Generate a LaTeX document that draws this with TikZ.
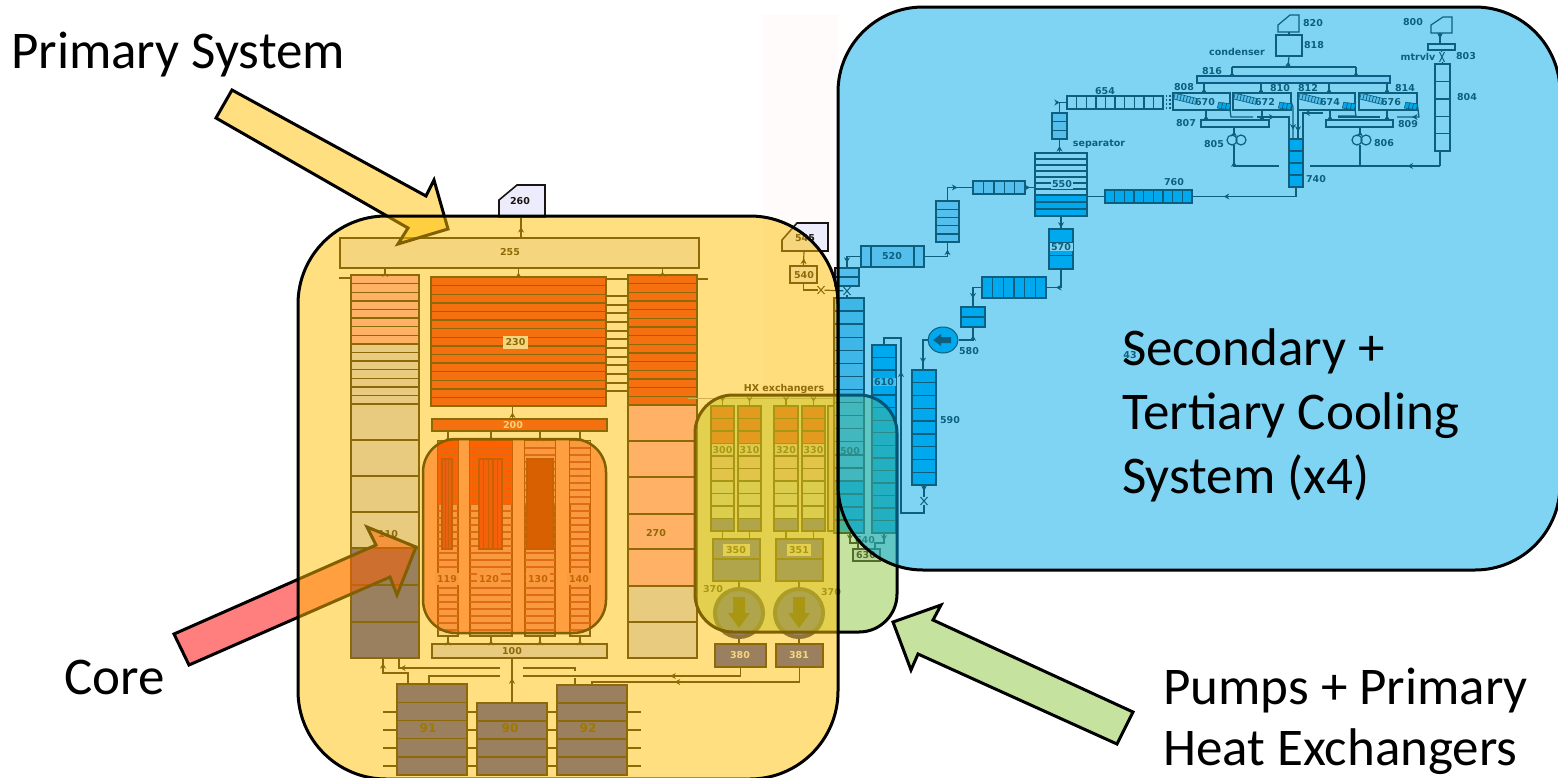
\documentclass[tikz,border=0pt]{standalone}
\usepackage{fontspec}
\setmainfont{Carlito}
\newfontfamily\schfont{DejaVu Sans}
\usetikzlibrary{arrows.meta,calc,decorations.markings,shapes.misc,shapes.geometric}
\definecolor{schline}{HTML}{1C1410}
\definecolor{rodline}{HTML}{803060}
\definecolor{lav}{HTML}{ECECFC}
\definecolor{heata}{HTML}{EB2020}
\definecolor{heatb}{HTML}{FFA4CC}
\definecolor{heatc}{HTML}{D1D8FF}
\definecolor{coldblk}{HTML}{3740C0}
\definecolor{tanktext}{HTML}{403000}
\definecolor{hxa}{HTML}{FF2240}
\definecolor{hxb}{HTML}{FFD0F0}
\definecolor{hxc}{HTML}{E6F4FF}
\definecolor{hxd}{HTML}{3650F0}
\definecolor{coola}{HTML}{00A5F0}
\definecolor{coolb}{HTML}{AAD5F0}
\definecolor{coolc}{HTML}{7EC5E5}
\definecolor{zonered}{HTML}{FF0000}
\definecolor{zoneyel}{HTML}{FFC000}
\definecolor{zoneblu}{HTML}{00ABEB}
\definecolor{zonegrn}{HTML}{8CC63F}
\tikzset{
  % ---- schematic parts ------------------------------------------------
  cell/.style={draw=schline, line width=1.4pt, inner sep=0pt, outer sep=0pt,
    anchor=north west},
  rowline/.style={draw=schline, line width=1.4pt},
  pipe/.style={draw=schline, line width=1.2pt},
  ptip/.style={pipe,
    decoration={markings, mark=at position #1 with
      {\arrow{Stealth[length=5.5pt,width=6pt,color=schline]}}},
    postaction={decorate}},
  ptip/.default=0.5,
  valve/.style={cross out, draw=schline, line width=1pt, inner sep=0pt,
    minimum width=6pt, minimum height=7pt},
  fan/.style={circle, draw=schline, line width=1.2pt, inner sep=0pt,
    minimum size=10pt},
  numtag/.style={inner sep=1pt, text=schline,
    font=\schfont\bfseries\fontsize{9.5}{10}\selectfont},
  bigtag/.style={numtag, text=tanktext,
    font=\schfont\bfseries\fontsize{12}{13}\selectfont},
  patchtag/.style={numtag, fill=lav},
  % ---- translucent zones ----------------------------------------------
  zone/.style={draw=black, line width=3pt, fill opacity=0.5, draw opacity=1,
    inner sep=0pt, outer sep=0pt, anchor=north west},
  bigtext/.style={inner sep=0pt, anchor=base west, text=black,
    font=\fontsize{53}{56}\selectfont},
}
% name, x1, y1, x2, y2, fill
\newcommand{\block}[6]{%
  \pgfmathsetmacro\bw{(#4)-(#2)}\pgfmathsetmacro\bh{(#5)-(#3)}%
  \node[cell, fill=#6, minimum width=\bw pt, minimum height=\bh pt] (#1) at (#2,#3) {};}
% x1, y1, x2, y2, rows
\newcommand{\hrows}[5]{%
  \pgfmathtruncatemacro\nr{#5-1}%
  \foreach \k in {1,...,\nr}{\draw[rowline] (#1,{#2+\k*(#4-#2)/#5}) -- (#3,{#2+\k*(#4-#2)/#5});}}
% x1, y1, x2, y2, columns
\newcommand{\vrows}[5]{%
  \pgfmathtruncatemacro\nr{#5-1}%
  \foreach \k in {1,...,\nr}{\draw[rowline] ({#1+\k*(#3-#1)/#5},#2) -- ({#1+\k*(#3-#1)/#5},#4);}}
\begin{document}
\begin{tikzpicture}[x=1pt,y=-1pt]
\useasboundingbox (0,0) rectangle (1558,777);
\fill[white] (0,0) rectangle (1558,777);
\fill[red!1.5] (763,15) rectangle (838,395);

% ---------------- tags on top ------------------------------------------
\coordinate (t260) at (521,216);
\draw[pipe, line width=1.6pt, fill=lav] (499,217) -- (499,200) -- (517,185) -- (545,185) -- (545,217) -- cycle;
\node[numtag] (l260) at (520,201) {260};
\draw[pipe, line width=1.6pt, fill=lav] (782,251) -- (782,240) -- (797,223) -- (828,223) -- (828,251) -- cycle;
\coordinate (t545) at (804,251);
\node[numtag] (l545) at (805,238) {545};

% ---------------- primary vessel ---------------------------------------
\block{bus255}{340}{238}{699}{268}{lav}
\node[numtag] (l255) at (510,252) {255};
\block{col110}{351}{275}{419}{344}{heatb}
\hrows{351}{275}{419}{344}{8}
\block{col110b}{351}{344}{419}{404}{heatc}
\hrows{351}{344}{419}{404}{7}
\foreach \ya/\yb/\fc in {404/440/heatc,440/476/heatc,476/512/heatc,512/548/heatc,
                         548/585/coldblk,585/622/coldblk,622/658/coldblk}{
  \block{c110\ya}{351}{\ya}{419}{\yb}{\fc}
}
\node[numtag] (l110) at (388,534) {110};
\block{block230}{431}{277}{606}{406}{heata}
\hrows{431}{277}{606}{406}{15}
\node[patchtag, inner sep=3pt] (l230) at (515.5,342.5) {230};
\foreach \ya in {279,296,305,313,322,331,339,348,357,365,374,383,391}{
  \draw[rowline] (606,\ya) -- (628,\ya);
}
\block{col270}{628}{275}{697}{405}{heata}
\hrows{628}{275}{697}{405}{15}
\foreach \ya/\yb/\fc in {405/441/heatb,441/477/heatb,477/514/heatb,514/549/heatb,
                         549/586/heatb,586/622/heatc,622/658/heatc}{
  \block{c270\ya}{628}{\ya}{697}{\yb}{\fc}
}
\node[numtag] (l270) at (656,533) {270};
\draw[pipe] (col110.north west) ++(-12,3) -- ++(12,0);
\draw[pipe] (col270.north east) ++(0,4) -- ++(11,0);
\draw[ptip] (col110.north) -- (col110.north |- bus255.south);
\draw[ptip] (block230.north) -- (block230.north |- bus255.south);
\draw[ptip] (col270.north) -- (col270.north |- bus255.south);
\draw[ptip, line width=1.6pt] (t260 |- bus255.north) -- (t260);

\block{box200}{432}{419}{607}{431}{heata}
\node[numtag, text=lav] (l200) at (513,425) {200};
\draw[ptip] ([xshift=-7pt]box200.north) -- ([xshift=-7pt]box200.north |- block230.south);
\block{box100}{432}{644}{607}{658}{heatc}
\node[numtag] (l100) at (512,651) {100};

% ---------------- core rods --------------------------------------------
\foreach \nm/\xa/\xb/\hc in {119/438/458/zonered,120/470/512/zonered,130/525/555/lav,140/570/590/lav}{
  \block{rod\nm}{\xa}{441}{\xb}{636}{lav}
  \fill[\hc] (\xa,441) rectangle (\xb,503);
  \foreach \k in {1,...,27}{
    \draw[draw=rodline, line width=1.8pt] (\xa,441+\k*7) -- (\xb,441+\k*7);
  }
  \draw[ptip] (rod\nm.north) -- (rod\nm.north |- box200.south);
  \draw[ptip] (box100.north -| rod\nm.north) -- (rod\nm.south);
}
\block{in119}{442}{459}{452}{549}{zonered!70!blue}
\vrows{442}{459}{452}{549}{3}
\block{in120}{479}{459}{502}{549}{zonered!85!blue}
\vrows{479}{459}{502}{549}{5}
\block{in130}{527}{459}{553}{549}{zonered!40!black}
\foreach \nm/\xc in {119/447,120/489,130/538,140/579}{
  \node[patchtag, inner sep=2pt] (l\nm) at (\xc,579) {\nm};
}

% ---------------- drain tanks ------------------------------------------
\foreach \nm/\xa/\ya/\xc in {91/397/684/428,90/477/703/510,92/557/685/588}{
  \block{tank\nm}{\xa}{\ya}{\xa+70}{775}{coldblk}
}
\hrows{397}{684}{467}{775}{5}
\hrows{477}{703}{547}{775}{4}
\hrows{557}{685}{627}{775}{5}
\foreach \nm/\xc in {91/428,90/510,92/588}{
  \node[bigtag] (l\nm) at (\xc,728) {\nm};
}
\foreach \ya in {712,730,748,766}{
  \draw[pipe] (tank91.west |- 0,\ya) -- ++(-14,0);
  \draw[pipe] (tank91.east |- 0,\ya) -- (tank90.west |- 0,\ya);
  \draw[pipe] (tank90.east |- 0,\ya) -- (tank92.west |- 0,\ya);
  \draw[pipe] (tank92.east |- 0,\ya) -- ++(14,0);
}
\draw[ptip=0.55] (tank90.north) -- (tank90.north |- box100.south);
\draw[ptip=0.9] ([xshift=-24pt]tank91.north) |- (383,673) -- (c110622.south -| 383,0);
\draw[ptip=0.9] (500,668) -- (399,668) -- (c110622.south -| 399,0);
\draw[pipe] ([xshift=-3pt]tank91.north) -- ++(0,-8) -- (500,676);
\draw[pipe] (523,668) -- (575,668) -- (575,671);
\draw[pipe] (575,678) -- (575,685);

% ---------------- heat exchangers --------------------------------------
\node[numtag] (lhx) at (784,389) {HX exchangers};
\coordinate (hxrail) at (688,398);
\coordinate (hxend) at (838,398);
\draw[draw=schline!40, line width=0.7pt] (hxrail) -- (hxend);
\block{hxstrip}{828}{406}{834}{531}{hxb}
\foreach \nm/\xa/\xb in {300/711/734,310/738/761,320/774/798,330/802/825}{
  \foreach \r/\fc in {0/hxa,1/hxa,2/hxa,3/hxb,4/hxb,5/hxb,6/hxc,7/hxc,8/hxc,9/hxd}{
    \block{hx\nm r\r}{\xa}{406+\r*12.5}{\xb}{418.5+\r*12.5}{\fc}
  }
  \draw[ptip] (hx\nm r0.north |- hxrail) -- (hx\nm r0.north);
  \node[numtag, fill=hxc, inner sep=0.5pt] (l\nm) at (hx\nm r3.center) {\nm};
}
\block{box350}{713}{539}{760}{559}{hxd}
\block{box350b}{713}{559}{760}{581}{hxd}
\block{box351}{776}{539}{823}{559}{hxd}
\block{box351b}{776}{559}{823}{581}{hxd}
\node[numtag, fill=white, minimum width=27pt, minimum height=12pt] (l350) at (736,550) {350};
\node[numtag, fill=white, minimum width=24pt, minimum height=12pt] (l351) at (799,550) {351};
\draw[pipe] (hx300r9.south) -- (hx300r9.south |- box350.north);
\draw[pipe] (hx310r9.south) -- (hx310r9.south |- box350.north);
\draw[pipe] (hx320r9.south) -- (hx320r9.south |- box351.north);
\draw[pipe] (hx330r9.south) -- (hx330r9.south |- box351.north);
\foreach \nm/\xc in {a/739,b/799}{
  \node[circle, draw=schline!60!hxd, line width=4pt, fill=hxd, inner sep=0pt,
        minimum size=48pt] (pump\nm) at (\xc,613) {};
  \fill[schline] (\xc-6,597) -- (\xc+6,597) -- (\xc+6,613) -- (\xc+11,613)
    -- (\xc,628) -- (\xc-11,613) -- (\xc-6,613) -- cycle;
}
\node[numtag] (l370a) at (713,589) {370};
\node[numtag] (l370b) at (831,592) {370};
\block{box380}{715}{644}{766}{667}{coldblk}
\block{box381}{776}{644}{823}{667}{coldblk}
\node[numtag, text=lav] (l380) at (740,655) {380};
\node[numtag, text=lav] (l381) at (799,655) {381};
\draw[pipe] (box350b.south -| pumpa) -- (pumpa.north);
\draw[pipe] (box351b.south -| pumpb) -- (pumpb.north);
\draw[pipe] (pumpa.south) -- (box380.north -| pumpa);
\draw[pipe] (pumpb.south) -- (box381.north -| pumpb);
\draw[ptip=0.35] (box380.south) |- (523,676);
\draw[ptip=0.62] (box381.south) |- ([yshift=3pt]tank92.north) -- (tank92.north);

% ---------------- secondary loop, lower part ---------------------------
\block{col500}{834}{298}{864}{481}{coolc}
\hrows{834}{298}{864}{481}{14}
\block{col500b}{834}{481}{864}{533}{coola}
\hrows{834}{481}{864}{533}{4}
\node[numtag] (l500) at (850,451) {500};
\block{col610}{872}{345}{896}{533}{coola}
\hrows{872}{345}{896}{533}{15}
\node[numtag, fill=coola!50!white, inner sep=0.5pt, minimum width=23pt] (l610) at (884,382) {610};
\block{col590}{912}{370}{936}{485}{coola}
\hrows{912}{370}{936}{485}{9}
\node[numtag] (l590) at (950,420) {590};
\node[valve] (v590) at (924,501) {};
\draw[ptip] (col590.south) -- (v590);
\draw[ptip=0.75] (v590) |- (901,513) -- (901,338) -- (col610.north |- 0,338) -- (col610.north);
\block{box630}{853}{549}{880}{561}{lav}
\node[numtag, inner sep=0pt] (l630) at (866,555) {630};
\node[numtag] (l640) at (865,540) {640};
\draw[ptip=0.3] (col500b.south -| 850,0) -- (850,543) -- (858,543) -- (box630.north -| 858,0);
\draw[ptip=0.3] (col610.south -| 884,0) -- (884,543) -- (875,543) -- (box630.north -| 875,0);
\block{box540}{790}{266}{817}{283}{lav}
\node[numtag] (l540) at (804,275) {540};
\draw[ptip] (box540.north) -- (t545);
\node[valve] (v540) at (821,290) {};
\draw[pipe] (box540.south) |- (v540);
\block{box268}{835}{268}{859}{286}{coolb}
\hrows{835}{268}{859}{286}{2}
\node[valve] (v500) at (847,291) {};
\draw[pipe] (v540) -- (v500);
\draw[pipe] (box268.south) -- (v500);
\draw[pipe] (v500) -- (col500.north -| v500);
\block{box520}{861}{246}{924}{267}{coolb}
\draw[rowline] (871,246) -- (871,267);
\draw[rowline] (914,246) -- (914,267);
\node[numtag] (l520) at (892,256) {520};
\draw[ptip=0.8] (box520.west) -| (box268.north);
\block{col948}{936}{201}{959}{242}{coolb}
\hrows{936}{201}{959}{242}{5}
\draw[ptip=0.8] (box520.east) -| (col948.south);
\block{box973}{973}{181}{1025}{194}{coolb}
\vrows{973}{181}{1025}{194}{5}
\draw[ptip=0.6] (col948.north) |- (box973.west);
\block{col550}{1035}{153}{1087}{195}{white}
\hrows{1035}{153}{1087}{195}{7}
\block{col550b}{1035}{195}{1087}{216}{coola}
\hrows{1035}{195}{1087}{216}{3}
\node[numtag, fill=white] (l550) at (1062,184) {550};
\draw[ptip] (box973.east) -- (col550.west |- box973.east);
\block{col570}{1049}{229}{1073}{269}{coola}
\hrows{1049}{229}{1073}{269}{3}
\node[numtag, fill=white, inner sep=0.5pt, minimum width=23pt] (l570) at (1061,247) {570};
\draw[ptip=0.9] (col550b.south -| col570.north) -- (col570.north);
\block{box982}{982}{277}{1046}{298}{coola}
\vrows{982}{277}{1046}{298}{6}
\draw[ptip=0.7] (col570.south) |- (box982.east);
\block{box961}{961}{307}{985}{327}{coola}
\hrows{961}{307}{985}{327}{2}
\draw[ptip=0.7] (box982.west) -| (box961.north);
\node[ellipse, draw=schline, line width=1pt, fill=coola, inner sep=0pt, minimum width=30pt,
      minimum height=26pt] (pump580) at (943,340) {};
\fill[schline] (933,340) -- (941,334) -- (941,337) -- (951,337) -- (951,343) -- (941,343)
  -- (941,346) -- cycle;
\node[numtag] (l580) at (969,351) {580};
\draw[ptip=0.7] (pump580.east) -| (box961.south);
\draw[ptip=0.8] (pump580.west) -- (923,340) -- (col590.north -| 923,0);
\node[numtag] (l43) at (1130,355) {43};

% ---------------- steam side, upper part -------------------------------
\block{col113}{1052}{113}{1067}{139}{coolb}
\hrows{1052}{113}{1067}{139}{3}
\draw[ptip] (col113.north |- col550.north) -- (col113.south);
\node[numtag] (lsep) at (1099,144) {separator};
\block{box654}{1067}{96}{1163}{109}{white}
\vrows{1067}{96}{1163}{109}{10}
\node[numtag] (l654) at (1105,91) {654};
\draw[ptip=0.6] (col113.north) |- (box654.west);
\block{col740}{1289}{139}{1303}{187}{coola}
\hrows{1289}{139}{1303}{187}{4}
\node[numtag] (l740) at (1316,179) {740};
\block{box760}{1105}{190}{1192}{203}{coola}
\vrows{1105}{190}{1192}{203}{9}
\node[numtag] (l760) at (1174,182) {760};
\draw[ptip=0.72] (col740.south) |- (box760.east);
\draw[pipe] (box760.west) -- (col550.east |- box760.west);
\block{bus816}{1197}{76}{1390}{83}{lav}
\node[numtag] (l816) at (1212,71) {816};
\block{box818}{1276}{35}{1302}{56}{white}
\node[numtag] (l818) at (1314,45) {818};
\node[numtag] (lcond) at (1237,52) {condenser};
\draw[pipe, fill=white] (1278,32) -- (1278,25) -- (1290,15) -- (1299,15) -- (1299,32) -- cycle;
\coordinate (t820) at (1289,32);
\node[numtag] (l820) at (1313,23) {820};
\draw[pipe] (box818.north) -- (t820);
\coordinate (rail816) at (1288,67);
\draw[ptip] (rail816) -- (box818.south);
\draw[pipe] (rail816 -| 1232,0) -- (rail816 -| 1356,0);
\draw[ptip] (bus816.north -| 1232,0) -- (rail816 -| 1232,0);
\draw[ptip] (bus816.north -| 1356,0) -- (rail816 -| 1356,0);
\foreach \nm/\xa/\xb/\xup/\xdn in {670/1173/1230/1204/1206,672/1233/1291/1261/1262,
                                   674/1298/1355/1329/1330,676/1359/1417/1387/1387}{
  \block{sg\nm}{\xa}{93}{\xb}{110}{white}
  \foreach \i in {0,...,6}{
    \node[draw=schline, line width=0.6pt, fill=coolb, inner sep=0pt, minimum width=3.2pt,
          minimum height=6pt, rotate=-14] (tb\nm\i) at (\xa+3+\i*3.1,96.5+\i*0.75) {};
  }
  \foreach \i in {0,1,2}{
    \node[draw=schline, line width=0.6pt, fill=coola, inner sep=0pt, minimum width=4pt,
          minimum height=6pt, rotate=-14] (tc\nm\i) at (\xb-10+\i*4,105.5+\i*0.5) {};
  }
  \node[numtag, inner sep=0pt] (l\nm) at (\xa+32,102) {\nm};
  \draw[ptip] (\xup,93) -- (bus816.south -| \xup,0);
}
\block{bus807}{1201}{120}{1269}{127}{white}
\block{bus809}{1326}{120}{1393}{127}{white}
\draw[ptip] (1206,120) -- (sg670.south -| 1206,0);
\draw[ptip] (1262,120) -- (sg672.south -| 1262,0);
\draw[ptip] (1330,120) -- (sg674.south -| 1330,0);
\draw[ptip] (1387,120) -- (sg676.south -| 1387,0);
\foreach \nm/\xc/\yc in {808/1184/87,810/1280/88,812/1308/88,814/1405/88,807/1186/123,809/1408/124,805/1214/144,806/1384/143}{
  \node[numtag] (l\nm) at (\xc,\yc) {\nm};
}
\node[fan] (fan805a) at (1232,140) {};
\node[fan] (fan805b) at (1241,140) {};
\node[fan] (fan806a) at (1357,140) {};
\node[fan] (fan806b) at (1366,140) {};
\draw[ptip] (1234,135) -- (bus807.south -| 1234,0);
\draw[ptip] (1360,135) -- (bus809.south -| 1360,0);
\draw[ptip=0.75] (1279,166) -- (1234,166) -- (1234,145);
\coordinate (pipe804) at (1440,166);
\draw[ptip=0.25] (pipe804) -- (1310,166);
\draw[pipe] (1360,145) -- (1360,166);
% return lines into the 740 stack
\draw[pipe] (sg670.south east) -- ++(1,7) -- (1253,117);
\draw[ptip=0.32] (1257,117) -- (1289,117) -- (col740.north -| 1289,0);
\draw[ptip=0.75] (sg672.east) -- (1293,107) -- (col740.north -| 1293,0);
\draw[ptip=0.75] (sg674.south west) -- (col740.north -| 1298,0);
\draw[ptip=0.4] (1323,113) -- (1303,113) -- (col740.north -| 1303,0);
\draw[pipe] (sg674.south east) -- ++(1,6) -- (1338,116);
\draw[pipe] (1338,117) -- (1380,117);
\draw[ptip=0.6] (sg676.east) -- (1419,117) -- (1397,117);
\foreach \ya in {96,100,104,108}{
  \draw[pipe, dotted] (box654.east |- 0,\ya) -- (sg670.west |- 0,\ya);
}
\block{col804}{1435}{64}{1450}{151}{white}
\hrows{1435}{64}{1450}{151}{5}
\draw[pipe] (col804.south -| pipe804) -- (pipe804);
\node[numtag] (l804) at (1467,97) {804};
\block{box803}{1428}{44}{1455}{50}{white}
\node[numtag] (l803) at (1466,56) {803};
\node[numtag] (lmtr) at (1418,57) {mtrvlv};
\node[valve, minimum width=4pt, minimum height=9pt] (v803) at (1442,57) {};
\draw[pipe] (box803.south) -- (v803);
\draw[pipe] (v803) -- (col804.north);
\draw[pipe, fill=white] (1431,33) -- (1431,25) -- (1443,17) -- (1452,17) -- (1452,33) -- cycle;
\coordinate (t800) at (1440,33);
\node[numtag] (l800) at (1413,22) {800};
\draw[ptip] (t800) -- (box803.north -| t800);

% ---------------- marked regions ---------------------------------------
\node[zone, fill=zonered, line width=2.5pt, rounded corners=33pt, minimum width=183pt,
      minimum height=194pt] (corezone) at (423,439) {};
\draw[zone, fill=zonered] (189,665) -- (390,577) -- (397,595) -- (416,547) -- (367,527)
  -- (376,545) -- (174,634) -- cycle;
\draw[zone, fill=zoneyel] (232,90) -- (426,196) -- (434,180) -- (448,229) -- (398,244)
  -- (408,228) -- (216,118) -- cycle;
\draw[zone, fill=zonegrn] (1133,712) -- (933,620) -- (941,605) -- (893,622) -- (911,670)
  -- (918,654) -- (1117,744) -- cycle;
\node[zone, fill=zonegrn, rounded corners=38pt, minimum width=202pt,
      minimum height=237pt] (hxzone) at (695,395) {};
\node[zone, fill=zoneyel, rounded corners=88pt, minimum width=540pt,
      minimum height=563pt] (primaryzone) at (298,216) {};
\node[zone, fill=zoneblu, rounded corners=85pt, minimum width=722pt,
      minimum height=563pt] (tertiaryzone) at (838,7) {};

% ---------------- captions ---------------------------------------------
\node[bigtext] (tprimary) at (11,68) {Primary System};
\node[bigtext] (tcore) at (64,694) {Core};
\node[bigtext] (tsecond) at (1122,365) {Secondary +};
\node[bigtext] (ttert) at (1122,429) {Tertiary Cooling};
\node[bigtext] (tsystem) at (1122,493) {System (x4)};
\node[bigtext] (tpumps) at (1163,704) {Pumps + Primary};
\node[bigtext] (theat) at (1163,765) {Heat Exchangers};

\end{tikzpicture}
\end{document}
